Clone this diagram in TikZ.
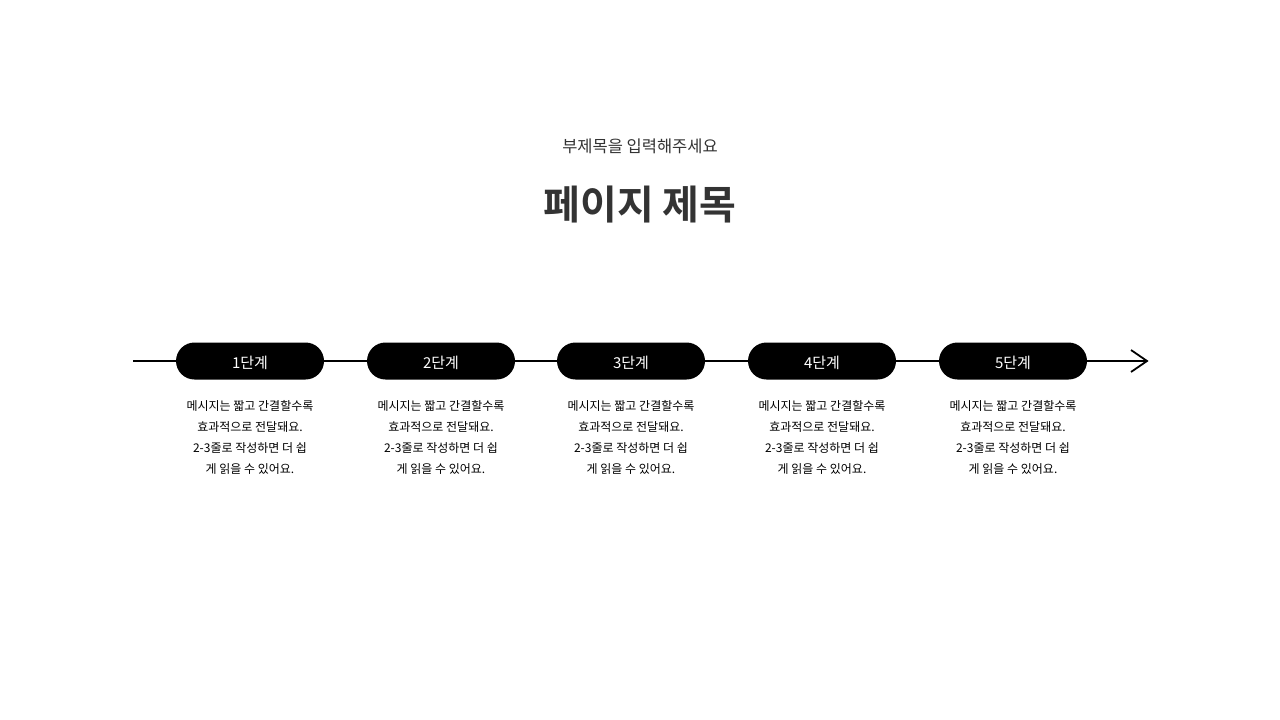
\documentclass[tikz,border=0pt]{standalone}
\usepackage{fontspec}
\newfontfamily\kr{Noto Sans CJK KR}
\newfontfamily\krb{Noto Sans CJK KR Bold}
\definecolor{ink}{HTML}{333333}
\begin{document}
\begin{tikzpicture}[x=1pt,y=-1pt,
  pill/.style={fill=black,rounded corners=18.5pt,minimum width=148pt,minimum height=37pt,inner sep=0pt,text=white,font=\kr\fontsize{15}{18}\selectfont},
  desc/.style={align=center,font=\kr\fontsize{12}{21}\selectfont,text=black,inner sep=0pt,anchor=north},
  conn/.style={line width=1.8pt,draw=black}]
\useasboundingbox (0,0) rectangle (1280,720);
\fill[white] (0,0) rectangle (1280,720);
\node[font=\kr\fontsize{16.5}{20}\selectfont,text=ink] (sub) at (640,146) {부제목을 입력해주세요};
\node[font=\krb\fontsize{40}{48}\selectfont,text=ink] (title) at (640,205) {페이지 제목};
\coordinate (start) at (133,361);
\coordinate (end) at (1147,361);
\foreach \i/\x in {1/250,2/441,3/631,4/822,5/1013}{
  \node[pill] (p\i) at (\x,361) {};
  \node[text=white,font=\kr\fontsize{15}{18}\selectfont,inner sep=0pt] (t\i) at (\x,362.5) {\i{}단계};
  \node[desc] (d\i) at (\x,400) {메시지는 짧고 간결할수록\\효과적으로 전달돼요.\\2-3줄로 작성하면 더 쉽\\게 읽을 수 있어요.};
}
\draw[conn] (start) -- (p1.west);
\draw[conn] (p1.east) -- (p2.west);
\draw[conn] (p2.east) -- (p3.west);
\draw[conn] (p3.east) -- (p4.west);
\draw[conn] (p4.east) -- (p5.west);
\draw[conn] (p5.east) -- (end);
\draw[conn,line join=miter] ([shift={(-16,-11)}]end) -- (end) -- ([shift={(-16,11)}]end);
\end{tikzpicture}
\end{document}
